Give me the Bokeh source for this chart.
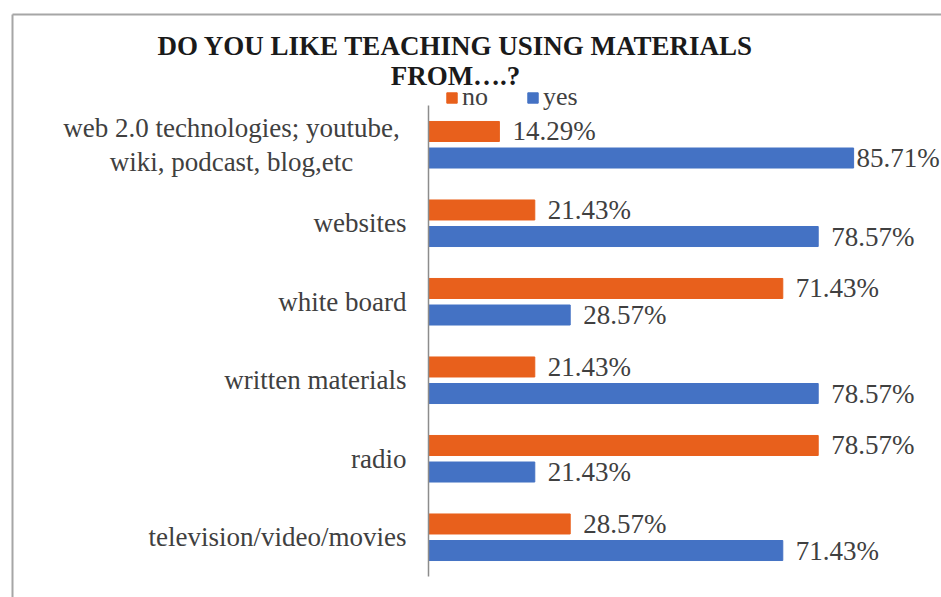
from bokeh.plotting import figure
from bokeh.models import Range1d, Label, Legend, LegendItem, ColumnDataSource
from bokeh.core.properties import value
from bokeh.embed import file_html
from bokeh.resources import INLINE

# ---- data ----
categories = [
    "web 2.0 technologies; youtube, wiki, podcast, blog,etc",
    "websites",
    "white board",
    "written materials",
    "radio",
    "television/video/movies",
]
no_values = [14.29, 21.43, 71.43, 21.43, 78.57, 28.57]
yes_values = [85.71, 78.57, 28.57, 78.57, 21.43, 71.43]
series_names = ["no", "yes"]
title_lines = ["DO YOU LIKE TEACHING USING MATERIALS", "FROM….?"]
first_label_lines = ["web 2.0 technologies; youtube,", "wiki, podcast, blog,etc"]

# ---- styling / layout constants ----
ORANGE = "#E8601C"
BLUE = "#4472C4"
TXT = "#404040"
FONT = "Liberation Serif"
W, H = 941, 597            # canvas size
AXIS_PX = 428              # canvas px from left edge to the value axis (value 0)
PX_X = 4.96                # px per percent
TOP_PX = 105               # canvas px from top to first category band
PX_Y = 78.5                # px per category band
OFF = 0.169                # bar dodge (band units)
BH = 0.255                 # bar height (band units)
LBL_W = 84                 # approx width of a value label in px

x_start = -AXIS_PX / PX_X
x_end = (W - AXIS_PX) / PX_X
y_top = -0.5 - TOP_PX / PX_Y
y_bottom = y_top + H / PX_Y

n = len(categories)
ypos = list(range(n))

def lbl_offset(v):
    return 13 if AXIS_PX + v * PX_X + 13 + LBL_W < W - 4 else 3

bar_src = ColumnDataSource(dict(
    y_no=[i - OFF for i in ypos],
    y_yes=[i + OFF for i in ypos],
    no=no_values,
    yes=yes_values,
))

p = figure(
    x_range=Range1d(x_start, x_end), y_range=Range1d(y_bottom, y_top),
    width=W, height=H,
    output_backend="svg", toolbar_location=None,
    x_axis_location=None, y_axis_location=None,
    min_border=0, min_border_left=0, min_border_right=0,
    min_border_top=0, min_border_bottom=0,
)
p.background_fill_color = "white"
p.border_fill_color = "white"
p.outline_line_color = None
p.grid.grid_line_color = None

# frame border of the chart area (top + left edges)
bx = x_start + 12 / PX_X
by = y_top + 14 / PX_Y
p.segment(x0=[bx, bx], y0=[by, by], x1=[x_end + 5, bx], y1=[by, y_bottom + 1],
          line_color="#a6a6a6", line_width=2)

# bars
r_no = p.hbar(y="y_no", left=0, right="no", height=BH, color=ORANGE, source=bar_src)
r_yes = p.hbar(y="y_yes", left=0, right="yes", height=BH, color=BLUE, source=bar_src)

# value axis line
p.segment(x0=[0], y0=[-0.5], x1=[0], y1=[n - 0.5], line_color="#8c8c8c", line_width=1.5)

# value labels (one text glyph per label, like the category labels)
for vals, sign in ((no_values, -1), (yes_values, 1)):
    for i, v in zip(ypos, vals):
        p.text(x=[v], y=[i + sign * OFF], text=[f"{v:.2f}%"], x_offset=lbl_offset(v),
               text_align="left", text_baseline="middle", text_font=value(FONT),
               text_font_size="27px", text_color=TXT)

# category labels
p.text(x=[0] * (n - 1), y=ypos[1:], text=categories[1:], x_offset=-22,
       text_align="right", text_baseline="middle", text_font=value(FONT),
       text_font_size="27px", text_color=TXT)
p.text(x=[0], y=[ypos[0]], text=["\n".join(first_label_lines)], x_offset=-197,
       text_align="center", text_baseline="middle", text_font=value(FONT),
       text_font_size="27px", text_color=TXT, text_line_height=1.15)

# title
for t, yy in zip(title_lines, (H - 45, H - 75)):
    p.add_layout(Label(x=455, y=yy, x_units="screen", y_units="screen", text=t,
                       text_align="center", text_baseline="middle", text_font=FONT,
                       text_font_size="27px", text_font_style="bold", text_color="#1a1a1a"))

legend = Legend(items=[LegendItem(label=series_names[0], renderers=[r_no]),
                       LegendItem(label=series_names[1], renderers=[r_yes])],
                location=(445, H - 112), orientation="horizontal",
                padding=0, margin=0, spacing=38, glyph_width=13, glyph_height=13,
                label_standoff=4, label_text_font="Times New Roman", label_text_font_size="26px",
                label_text_color=TXT, border_line_color=None, background_fill_alpha=0)
p.add_layout(legend)

open("out.html", "w").write(file_html(p, INLINE))
